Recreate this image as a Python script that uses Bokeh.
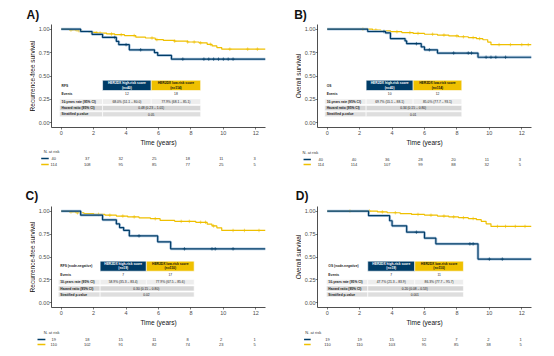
import numpy as np
from bokeh.plotting import figure
from bokeh.layouts import column, row
from bokeh.models import Range1d, FixedTicker, NumeralTickFormatter
from bokeh.embed import file_html
from bokeh.resources import INLINE
from bokeh.core.properties import value

NAVY = "#003C67"
YELLOW = "#EFC000"
HALO = "#9DBBDA"
FONT = "Liberation Sans"

X_TICKS = [0, 2, 4, 6, 8, 10, 12]
Y_TICKS = [0, 0.25, 0.5, 0.75, 1.0]
RISK_TIMES = [0, 2, 4, 6, 8, 10, 12]
ROW_LABELS = ["Events", "10-years rate (95% CI)", "Hazard ratio (95% CI)", "Stratified p-value"]

# ---------------- Panel A: RFS ----------------
A_high_t = [0, 1.2, 1.9, 2.55, 3.4, 3.55, 4.2, 5.75, 5.95, 6.8, 12.6]
A_high_s = [1.0, 0.975, 0.945, 0.912, 0.87, 0.835, 0.78, 0.75, 0.72, 0.68, 0.68]
A_high_c = [3.3, 4.0, 4.9, 7.5, 8.8, 9.1, 9.4, 9.7, 10.0, 10.3, 10.6]
A_low_t = [0, 0.5, 0.9, 1.3, 1.7, 2.2, 2.8, 3.3, 3.9, 4.6, 5.2, 5.8, 6.3, 7.0, 7.8, 8.5, 9.0, 9.3, 9.6, 9.9, 12.6]
A_low_s = [1.0, 0.991, 0.983, 0.975, 0.966, 0.958, 0.949, 0.941, 0.932, 0.915, 0.906, 0.889, 0.88, 0.872, 0.863, 0.854, 0.838, 0.821, 0.804, 0.787, 0.787]
A_low_c = [0.6, 1.1, 2.2, 2.4, 3.1, 3.7, 4.5, 5.6, 5.9, 7.0, 7.8, 8.2, 8.6, 9.2, 10.4, 11.5, 12.1]
A_header = "RFS"
A_n = ["(n=40)", "(n=114)"]
A_events = ["12", "18"]
A_rates = ["68.0% (51.1 \u2013 80.0)", "77.9% (68.1 \u2013 85.1)"]
A_hr = "0.48 (0.23 \u2013 1.01)"
A_p = "0.05"
A_risk_high = [40, 37, 32, 25, 18, 11, 3]
A_risk_low = [114, 108, 95, 85, 77, 25, 5]

# ---------------- Panel B: OS ----------------
B_high_t = [0, 2.5, 3.6, 3.9, 4.8, 4.9, 5.8, 6.0, 6.8, 9.3, 12.6]
B_high_s = [1.0, 0.975, 0.96, 0.90, 0.875, 0.845, 0.81, 0.78, 0.745, 0.70, 0.70]
B_high_c = [3.5, 5.5, 6.3, 7.8, 8.7, 8.9, 9.8, 10.1, 10.4, 11.0]
B_low_t = [0, 2.8, 3.3, 3.9, 4.6, 5.3, 6.0, 6.8, 7.5, 8.1, 8.7, 9.2, 9.6, 9.9, 10.1, 12.6]
B_low_s = [1.0, 0.991, 0.982, 0.973, 0.964, 0.955, 0.946, 0.937, 0.928, 0.919, 0.91, 0.899, 0.887, 0.862, 0.835, 0.835]
B_low_c = [2.2, 3.0, 4.3, 5.1, 5.6, 6.5, 7.2, 8.0, 8.4, 9.0, 9.4, 10.6, 11.3, 12.0, 12.4]
B_header = "OS"
B_n = ["(n=40)", "(n=114)"]
B_events = ["10", "12"]
B_rates = ["69.7% (55.1 \u2013 88.1)", "85.0% (77.7 \u2013 93.1)"]
B_hr = "0.34 (0.15 \u2013 0.80)"
B_p = "0.01"
B_risk_high = [40, 40, 36, 28, 20, 11, 3]
B_risk_low = [114, 114, 107, 99, 88, 32, 5]

# ---------------- Panel C: RFS node-negative ----------------
C_high_t = [0, 1.2, 2.55, 3.4, 3.6, 3.85, 4.2, 5.95, 6.75, 12.6]
C_high_s = [1.0, 0.955, 0.905, 0.86, 0.82, 0.79, 0.73, 0.665, 0.589, 0.589]
C_high_c = [4.8, 7.6, 9.3, 9.5, 10.6]
C_low_t = [0, 0.5, 0.9, 1.4, 2.0, 2.7, 3.4, 4.1, 4.8, 5.5, 6.1, 7.0, 8.3, 9.0, 9.3, 9.6, 9.9, 12.6]
C_low_s = [1.0, 0.991, 0.982, 0.973, 0.964, 0.955, 0.946, 0.937, 0.927, 0.917, 0.898, 0.888, 0.878, 0.858, 0.838, 0.818, 0.789, 0.789]
C_low_c = [0.6, 1.0, 2.3, 3.0, 3.8, 4.5, 5.8, 7.4, 7.9, 8.6, 8.9, 9.4, 10.6, 11.3, 12.2]
C_header = "RFS (node-negative)"
C_n = ["(n=19)", "(n=110)"]
C_events = ["7", "17"]
C_rates = ["58.9% (35.3 \u2013 83.4)", "77.9% (67.5 \u2013 85.6)"]
C_hr = "0.30 (0.15 \u2013 0.80)"
C_p = "0.02"
C_risk_high = [19, 18, 15, 11, 8, 2, 1]
C_risk_low = [110, 102, 91, 82, 74, 23, 5]

# ---------------- Panel D: OS node-negative ----------------
D_high_t = [0, 2.55, 3.85, 4.0, 4.9, 6.0, 6.7, 9.3, 12.6]
D_high_s = [1.0, 0.95, 0.895, 0.84, 0.77, 0.705, 0.643, 0.477, 0.477]
D_high_c = [5.5, 8.8, 9.0, 10.0, 10.8]
D_low_t = [0, 3.1, 3.7, 4.5, 5.2, 6.0, 6.8, 7.5, 8.1, 8.7, 9.2, 9.5, 9.8, 10.1, 12.6]
D_low_s = [1.0, 0.991, 0.982, 0.973, 0.964, 0.955, 0.946, 0.937, 0.928, 0.919, 0.906, 0.889, 0.861, 0.833, 0.833]
D_low_c = [1.4, 2.6, 3.4, 4.2, 5.6, 6.4, 7.2, 7.8, 8.4, 9.0, 10.5, 11.0, 11.6, 12.2]
D_header = "OS (node-negative)"
D_n = ["(n=19)", "(n=110)"]
D_events = ["7", "11"]
D_rates = ["47.7% (21.3 \u2013 83.9)", "86.3% (77.7 \u2013 95.7)"]
D_hr = "0.20 (0.08 \u2013 0.53)"
D_p = "0.001"
D_risk_high = [19, 19, 15, 12, 7, 2, 1]
D_risk_low = [110, 110, 103, 95, 85, 38, 5]

PANEL_LETTERS = ["A)", "B)", "C)", "D)"]


def step_at(t, s, c):
    t = np.asarray(t)
    s = np.asarray(s)
    idx = np.searchsorted(t, np.asarray(c), side="right") - 1
    return s[idx]


def txt(p, x, y, t, size="3.3px", align="center", color="#222222", style="normal", angle=0.0):
    p.text(x=x, y=y, text=t, text_font=value(FONT), text_font_size=size, angle=angle,
           text_align=align, text_baseline="middle", text_color=color,
           text_font_style=style, text_line_height=1.1)


def bare_fig(W, H, xr, yr):
    p = figure(width=W, height=H, x_range=Range1d(*xr), y_range=Range1d(*yr),
               output_backend="svg", toolbar_location=None,
               x_axis_location=None, y_axis_location=None,
               min_border_left=0, min_border_right=0, min_border_top=0, min_border_bottom=0)
    p.xgrid.visible = False
    p.ygrid.visible = False
    p.outline_line_color = None
    return p


def draw_table(p, cols, header, ns, events, rates, hr, pv):
    c0, c1, c2, c3 = cols
    ht, hb = 0.455, 0.345
    ey = 0.31
    rows = [(0.255, 0.197, "#EDEDED"), (0.185, 0.130, "#D6D6D6"), (0.118, 0.065, "#DEDEDE")]
    p.quad(left=[c1, c2], right=[c2, c3], top=[ht, ht], bottom=[hb, hb],
           fill_color=[NAVY, YELLOW], line_color="white", line_width=0.6)
    top, bot, col = rows[0]
    p.quad(left=[c0, c1, c2], right=[c1, c2, c3], top=[top] * 3, bottom=[bot] * 3,
           fill_color=col, line_color="white", line_width=0.6)
    for top, bot, col in rows[1:]:
        p.quad(left=[c0, c1], right=[c1, c3], top=[top] * 2, bottom=[bot] * 2,
               fill_color=col, line_color="white", line_width=0.6)
    lx = c0 + 0.12
    txt(p, [lx], [(ht + hb) / 2], [header], align="left", style="bold")
    txt(p, [lx], [ey], [ROW_LABELS[0]], align="left", style="bold")
    for (top, bot, _), lb in zip(rows, ROW_LABELS[1:]):
        txt(p, [lx], [(top + bot) / 2], [lb], align="left", style="bold")
    m1, m2 = (c1 + c2) / 2, (c2 + c3) / 2
    txt(p, [m1], [(ht + hb) / 2], ["HER2DX high-risk score\n" + ns[0]], color="white", style="bold")
    txt(p, [m2], [(ht + hb) / 2], ["HER2DX low-risk score\n" + ns[1]], color="#111111", style="bold")
    txt(p, [m1, m2], [ey, ey], events)
    r = rows[0]
    txt(p, [m1, m2], [(r[0] + r[1]) / 2] * 2, rates)
    r = rows[1]
    txt(p, [c2], [(r[0] + r[1]) / 2], [hr])
    r = rows[2]
    txt(p, [c2], [(r[0] + r[1]) / 2], [pv])


def km_fig(high, low, table, W, L, R, H, B):
    p = figure(width=W, height=H, x_range=Range1d(-0.6, 12.6), y_range=Range1d(-0.05, 1.05),
               output_backend="svg", toolbar_location=None,
               min_border_left=L, min_border_right=R, min_border_top=2, min_border_bottom=B)
    p.xgrid.visible = False
    p.ygrid.visible = False
    p.outline_line_color = None

    draw_table(p, *table)

    for (t, s, c), colr, halo in [(low, YELLOW, None), (high, NAVY, HALO)]:
        if halo:
            p.step(x=t, y=s, mode="after", line_color=halo, line_width=2.8, line_alpha=0.8)
        p.step(x=t, y=s, mode="after", line_color=colr, line_width=1.2)
        p.scatter(x=c, y=step_at(t, s, c), marker="cross", size=3.5, line_color=colr, line_width=0.6)

    p.xaxis.ticker = FixedTicker(ticks=X_TICKS)
    p.yaxis.ticker = FixedTicker(ticks=Y_TICKS)
    p.yaxis.formatter = NumeralTickFormatter(format="0.00")
    p.xaxis.axis_label = "Time (years)"
    for ax in (p.xaxis[0], p.yaxis[0]):
        ax.axis_line_color = "#222222"
        ax.axis_line_width = 0.8
        ax.major_tick_line_color = "#222222"
        ax.major_tick_line_width = 0.6
        ax.major_tick_out = 2
        ax.major_tick_in = 0
        ax.minor_tick_out = 0
        ax.minor_tick_in = 0
        ax.major_label_text_font = FONT
        ax.major_label_text_font_size = "5.5px"
        ax.major_label_text_color = "#4D4D4D"
        ax.major_label_standoff = 1
        ax.axis_label_text_font = FONT
        ax.axis_label_text_font_size = "6.5px"
        ax.axis_label_text_font_style = "normal"
        ax.axis_label_text_color = "#111111"
        ax.axis_label_standoff = 1
    p.yaxis[0].major_label_standoff = 0
    return p


def ytitle_fig(text, W, H, cx):
    p = bare_fig(W, H, (0, W), (0, 1))
    txt(p, [cx], [0.5], [text], size="6.5px", color="#111111", angle=np.pi / 2)
    return p


def letters_fig(H, xs, y, letters):
    p = bare_fig(554, H, (0, 554), (H, 0))
    txt(p, xs, [y, y], letters, size="12px", align="left", color="#111111", style="bold")
    return p


def risk_fig(xr, H, highs, lows, leg, labx, ys):
    p = bare_fig(277, H, xr, (H, 0))
    y0, y1, y2 = ys
    txt(p, [labx], [y0], ["N. at risk"], size="4px", align="left", color="#333333")
    p.segment(x0=[leg[0], leg[0]], x1=[leg[1], leg[1]], y0=[y1, y2], y1=[y1, y2],
              line_color=[NAVY, YELLOW], line_width=1.6)
    txt(p, RISK_TIMES, [y1] * 7, [str(v) for v in highs], size="4px", color="#333333")
    txt(p, RISK_TIMES, [y2] * 7, [str(v) for v in lows], size="4px", color="#333333")
    return p


# left panels: frame 50..265 ; right panels: frame 317..531
kmA = km_fig((A_high_t, A_high_s, A_high_c), (A_low_t, A_low_s, A_low_c),
             ([-0.1, 2.55, 5.55, 8.6], A_header, A_n, A_events, A_rates, A_hr, A_p),
             242, 15, 12, 126, 17)
kmB = km_fig((B_high_t, B_high_s, B_high_c), (B_low_t, B_low_s, B_low_c),
             ([-0.15, 2.4, 5.3, 8.3], B_header, B_n, B_events, B_rates, B_hr, B_p),
             253, 16, 23, 126, 17)
kmC = km_fig((C_high_t, C_high_s, C_high_c), (C_low_t, C_low_s, C_low_c),
             ([-0.18, 2.4, 5.25, 8.2], C_header, C_n, C_events, C_rates, C_hr, C_p),
             242, 15, 12, 124, 16)
kmD = km_fig((D_high_t, D_high_s, D_high_c), (D_low_t, D_low_s, D_low_c),
             ([-0.05, 2.5, 5.4, 8.4], D_header, D_n, D_events, D_rates, D_hr, D_p),
             253, 16, 23, 124, 16)

ytA = ytitle_fig("Recurrence-free survival", 35, 126, 32)
ytB = ytitle_fig("Overall survival", 24, 126, 20.5)
ytC = ytitle_fig("Recurrence-free survival", 35, 124, 32)
ytD = ytitle_fig("Overall survival", 24, 124, 20.5)

topL = letters_fig(22, [26, 293.7], 14.5, PANEL_LETTERS[:2])
botL = letters_fig(26, [25, 295.3], 17.5, PANEL_LETTERS[2:])

rkA = risk_fig((-3.18, 13.36), 30, A_risk_high, A_risk_low, (-0.75, -0.3), -0.6, (3, 10, 16))
rkB = risk_fig((-2.61, 14.08), 30, B_risk_high, B_risk_low, (-1.04, -0.6), -1.1, (3.7, 11, 16))
rkC = risk_fig((-3.18, 13.36), 28, C_risk_high, C_risk_low, (-0.97, -0.5), -0.6, (4, 11, 16))
rkD = risk_fig((-3.1, 14.1), 28, D_risk_high, D_risk_low, (-1.45, -1.04), -1.37, (4, 11, 16))

layout = column(
    topL,
    row(ytA, kmA, ytB, kmB),
    row(rkA, rkB),
    botL,
    row(ytC, kmC, ytD, kmD),
    row(rkC, rkD),
)

open("out.html", "w").write(file_html(layout, INLINE))
